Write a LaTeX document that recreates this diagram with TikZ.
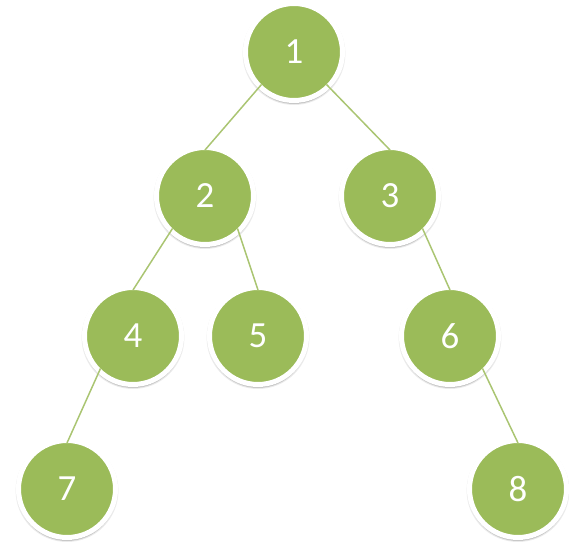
\documentclass[tikz,border=0pt]{standalone}
\usepackage{fontspec}
\setmainfont{Carlito}
\usepackage{tikz}
\usetikzlibrary{shadows}
\usepackage{xcolor}
\definecolor{leafgreen}{HTML}{9BBB59}

\begin{document}
\begin{tikzpicture}[
    x=0.02cm, y=-0.02cm,
    treenode/.style = {circle, fill=leafgreen, draw=white, line width=0.1cm, minimum size=1.94cm, inner sep=0pt, outer sep=-0.05cm, text=white, font=\fontsize{21}{21}\selectfont,
        general shadow={shadow scale=1.06, shadow yshift=-0.03cm, opacity=0.08, fill=black},
        general shadow={shadow scale=1.03, shadow yshift=-0.04cm, opacity=0.15, fill=black},
        general shadow={shadow scale=1.0, shadow xshift=0.01cm, shadow yshift=-0.05cm, opacity=0.2, fill=black}},
    link/.style = {draw=leafgreen!85, line width=0.85pt}
]
\useasboundingbox (0,0) rectangle (569,551);

% Level 0
\node (l0_one) [treenode, at={(294,52)}] {1};

% Level 1
\node (l1_two) [treenode, at={(205,196)}] {2};
\node (l1_three) [treenode, at={(390,196)}] {3};

% Level 2
\node (l2_four) [treenode, at={(133,336)}] {4};
\node (l2_five) [treenode, at={(258,336)}] {5};
\node (l2_six) [treenode, at={(450,336)}] {6};

% Level 3
\node (l3_seven) [treenode, at={(67,489)}] {7};
\node (l3_eight) [treenode, at={(518,489)}] {8};

% Connections
\draw [link] (l0_one.south west) -- (l1_two.north);
\draw [link] (l0_one.south east) -- (l1_three.north);

\draw [link] (l1_two.south west) -- (l2_four.north);
\draw [link] (l1_two.south east) -- (l2_five.north);
\draw [link] (l1_three.south east) -- (l2_six.north);

\draw [link] (l2_four.south west) -- (l3_seven.north);
\draw [link] (l2_six.south east) -- (l3_eight.north);

\end{tikzpicture}
\end{document}
